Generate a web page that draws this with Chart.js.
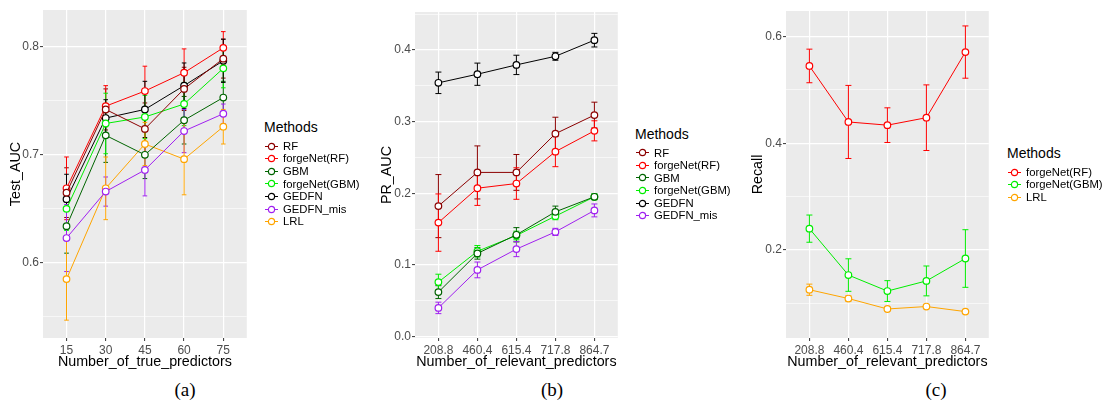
<!DOCTYPE html>
<html>
<head>
<meta charset="utf-8">
<script src="https://cdn.jsdelivr.net/npm/chart.js@4.4.1/dist/chart.umd.min.js"></script>
<style>
  html, body { margin: 0; padding: 0; background: #fff; overflow: hidden; }
  body { width: 1104px; height: 404px; position: relative; }
  .plot { position: absolute; top: 0; }
  .cap { position: absolute; top: 378px; line-height: 24px; font-family: "Liberation Serif", "DejaVu Serif", serif; font-size: 19px; transform: translateX(-50%); }
  .legend { position: absolute; font-family: "Liberation Sans", Arial, sans-serif; color: #000; }
  .lg-title { font-size: 14px; line-height: 17px; margin-bottom: 4px; white-space: nowrap; }
  .lg-item { font-size: 11.3px; line-height: 12.6px; height: 12.6px; white-space: nowrap; display: flex; align-items: center; }
  .lg-item canvas { margin: 0 5px 0 1px; }
</style>
</head>
<body>
<canvas class="plot" id="chartA" width="252" height="375" style="left:0px"></canvas>
<canvas class="plot" id="chartB" width="251" height="375" style="left:372px"></canvas>
<canvas class="plot" id="chartC" width="250" height="375" style="left:744px"></canvas>
<div class="legend" id="legendA" style="left:264px;top:118.8px"></div>
<div class="legend" id="legendB" style="left:635px;top:125.5px"></div>
<div class="legend" id="legendC" style="left:1007px;top:144.8px"></div>
<div class="cap" style="left:185px">(a)</div>
<div class="cap" style="left:552px">(b)</div>
<div class="cap" style="left:936px">(c)</div>
<script>
// (a) Test AUC vs number of true predictors
const aTicks = ['15', '30', '45', '60', '75'];
const aRF = [0.665, 0.742, 0.724, 0.761, 0.789];
const aRFErr = [0.023, 0.019, 0.024, 0.020, 0.018];
const aForgeRF = [0.669, 0.745, 0.759, 0.776, 0.799];
const aForgeRFErr = [0.029, 0.019, 0.023, 0.022, 0.015];
const aGBM = [0.634, 0.718, 0.700, 0.732, 0.753];
const aGBMErr = [0.025, 0.025, 0.022, 0.022, 0.015];
const aForgeGBM = [0.650, 0.729, 0.735, 0.747, 0.780];
const aForgeGBMErr = [0.020, 0.028, 0.020, 0.020, 0.018];
const aGEDFN = [0.659, 0.734, 0.742, 0.764, 0.787];
const aGEDFNErr = [0.023, 0.017, 0.026, 0.021, 0.020];
const aGEDFNmis = [0.623, 0.666, 0.686, 0.722, 0.738];
const aGEDFNmisErr = [0.031, 0.0135, 0.024, 0.020, 0.009];
const aLRL = [0.585, 0.669, 0.710, 0.696, 0.726];
const aLRLErr = [0.038, 0.029, 0.020, 0.033, 0.016];

// (b) PR AUC vs number of relevant predictors
const bTicks = ['208.8', '460.4', '615.4', '717.8', '864.7'];
const bRF = [0.182, 0.229, 0.229, 0.283, 0.309];
const bRFErr = [0.044, 0.037, 0.025, 0.023, 0.018];
const bForgeRF = [0.159, 0.207, 0.2135, 0.258, 0.287];
const bForgeRFErr = [0.040, 0.024, 0.022, 0.021, 0.014];
const bGBM = [0.062, 0.116, 0.142, 0.174, 0.195];
const bGBMErr = [0.009, 0.008, 0.010, 0.008, 0.004];
const bForgeGBM = [0.076, 0.119, 0.141, 0.168, 0.195];
const bForgeGBMErr = [0.011, 0.008, 0.006, 0.005, 0.004];
const bGEDFN = [0.354, 0.366, 0.379, 0.391, 0.4135];
const bGEDFNErr = [0.015, 0.0155, 0.0135, 0.0055, 0.0095];
const bGEDFNmis = [0.040, 0.093, 0.122, 0.146, 0.176];
const bGEDFNmisErr = [0.008, 0.011, 0.0105, 0.005, 0.009];

// (c) Recall vs number of relevant predictors
const cTicks = ['208.8', '460.4', '615.4', '717.8', '864.7'];
const cForgeRF = [0.545, 0.440, 0.434, 0.448, 0.571];
const cForgeRFErr = [0.0315, 0.0685, 0.0325, 0.0615, 0.049];
const cForgeGBM = [0.240, 0.153, 0.123, 0.142, 0.184];
const cForgeGBMErr = [0.0255, 0.0305, 0.0195, 0.028, 0.054];
const cLRL = [0.1255, 0.109, 0.0894, 0.094, 0.0845];
const cLRLErr = [0.0105, 0.005, 0.003, 0.004, 0.002];

const FONT = '"Liberation Sans", Arial, sans-serif';
const colors = {
  RF: '#8B0000',
  forgeRF: '#FF0000',
  GBM: '#006400',
  forgeGBM: '#00EE00',
  GEDFN: '#000000',
  GEDFNmis: '#A020F0',
  LRL: '#FFA500'
};

// ggplot-like legend key: line through an open circle
const keyIcon = color => {
  const c = document.createElement('canvas');
  c.width = 13;
  c.height = 9;
  const g = c.getContext('2d');
  g.strokeStyle = color;
  g.lineWidth = 1;
  g.beginPath();
  g.moveTo(0, 4.5);
  g.lineTo(13, 4.5);
  g.stroke();
  g.beginPath();
  g.arc(6.5, 4.5, 3.1, 0, Math.PI * 2);
  g.fillStyle = '#fff';
  g.fill();
  g.lineWidth = 1.2;
  g.stroke();
  return c;
};

const panelBg = {
  id: 'panelBg',
  beforeDraw(chart) {
    const {ctx, chartArea: a} = chart;
    ctx.save();
    ctx.fillStyle = '#EBEBEB';
    ctx.fillRect(a.left, a.top, a.right - a.left, a.bottom - a.top);
    ctx.restore();
  }
};

const errorBars = {
  id: 'errorBars',
  beforeDatasetsDraw(chart, args, opts) {
    const {ctx, scales: {x, y}} = chart;
    ctx.save();
    ctx.lineWidth = 1;
    chart.data.datasets.forEach(ds => {
      ctx.strokeStyle = ds.borderColor;
      ds.data.forEach((p, j) => {
        const e = ds.errors[j];
        const px = x.getPixelForValue(p.x);
        const top = y.getPixelForValue(p.y + e);
        const bot = y.getPixelForValue(p.y - e);
        ctx.beginPath();
        ctx.moveTo(px, top);
        ctx.lineTo(px, bot);
        ctx.moveTo(px - opts.cap, top);
        ctx.lineTo(px + opts.cap, top);
        ctx.moveTo(px - opts.cap, bot);
        ctx.lineTo(px + opts.cap, bot);
        ctx.stroke();
      });
    });
    ctx.restore();
  }
};

// legend as html next to the panel, built from the chart's datasets
const htmlLegend = {
  id: 'htmlLegend',
  afterUpdate(chart, args, opts) {
    const box = document.getElementById(opts.containerID);
    box.innerHTML = '';
    const title = document.createElement('div');
    title.className = 'lg-title';
    title.textContent = opts.title;
    box.appendChild(title);
    chart.data.datasets.forEach(ds => {
      const row = document.createElement('div');
      row.className = 'lg-item';
      row.appendChild(keyIcon(ds.borderColor));
      const span = document.createElement('span');
      span.textContent = ds.label;
      row.appendChild(span);
      box.appendChild(row);
    });
  }
};

const makeChart = (id, p) => {
  const isMajor = v => p.yMajor.some(m => Math.abs(m - v) < 1e-9);
  const datasets = p.series.map(s => ({
    label: s.label,
    data: s.values.map((v, i) => ({x: i + 1, y: v})),
    errors: s.errors,
    borderColor: s.color,
    borderWidth: 1,
    pointRadius: 3.3,
    pointBorderWidth: 1.2,
    pointBackgroundColor: '#fff',
    pointBorderColor: s.color,
    tension: 0
  }));
  return new Chart(document.getElementById(id), {
    type: 'line',
    data: {datasets},
    plugins: [panelBg, errorBars, htmlLegend],
    options: {
      responsive: false,
      animation: false,
      events: [],
      layout: {padding: {top: p.top, left: 0, right: 0, bottom: 0}},
      scales: {
        x: {
          type: 'linear',
          min: 0.4,
          max: 5.6,
          afterBuildTicks: s => { s.ticks = p.xLabels.map((_, i) => ({value: i + 1})); },
          afterFit: s => { s.height = 37; },
          ticks: {
            callback: v => p.xLabels[Math.round(v) - 1],
            color: '#4D4D4D',
            font: {size: 12, family: FONT},
            padding: 2,
            autoSkip: false,
            maxRotation: 0
          },
          grid: {color: '#fff', lineWidth: 1.2, tickLength: 3, tickColor: '#333', tickWidth: 1},
          border: {display: false},
          title: {
            display: true,
            text: p.xTitle,
            color: '#000',
            font: {size: 14.3, family: FONT},
            padding: {top: 0, bottom: 4.5}
          }
        },
        y: {
          min: p.yMin,
          max: p.yMax,
          afterBuildTicks: s => {
            s.ticks = p.yMajor.concat(p.yMinor).sort((a, b) => a - b).map(v => ({value: v}));
          },
          afterFit: s => { s.width = p.yWidth; },
          ticks: {
            callback: v => isMajor(v) ? v.toFixed(1) : '',
            color: '#4D4D4D',
            font: {size: 12, family: FONT},
            padding: 1,
            autoSkip: false
          },
          grid: {
            color: '#fff',
            lineWidth: c => isMajor(c.tick.value) ? 1.2 : 0.6,
            tickLength: 3,
            tickWidth: 1,
            tickColor: c => isMajor(c.tick.value) ? '#333' : 'rgba(0,0,0,0)'
          },
          border: {display: false},
          title: {
            display: true,
            text: p.yTitle,
            color: '#000',
            font: {size: 14.3, family: FONT},
            padding: {top: p.yTitlePad, bottom: 0}
          }
        }
      },
      plugins: {
        errorBars: {cap: p.cap},
        htmlLegend: {containerID: p.legendId, title: 'Methods'},
        tooltip: {enabled: false},
        legend: {display: false}
      }
    }
  });
};

makeChart('chartA', {
  xLabels: aTicks,
  xTitle: 'Number_of_true_predictors',
  yTitle: 'Test_AUC',
  yMin: 0.5305, yMax: 0.834,
  yMajor: [0.6, 0.7, 0.8],
  yMinor: [0.55, 0.65, 0.75],
  yWidth: 43, yTitlePad: 7.5,
  top: 10, cap: 2.3, legendId: 'legendA',
  series: [
    {label: 'RF', values: aRF, errors: aRFErr, color: colors.RF},
    {label: 'forgeNet(RF)', values: aForgeRF, errors: aForgeRFErr, color: colors.forgeRF},
    {label: 'GBM', values: aGBM, errors: aGBMErr, color: colors.GBM},
    {label: 'forgeNet(GBM)', values: aForgeGBM, errors: aForgeGBMErr, color: colors.forgeGBM},
    {label: 'GEDFN', values: aGEDFN, errors: aGEDFNErr, color: colors.GEDFN},
    {label: 'GEDFN_mis', values: aGEDFNmis, errors: aGEDFNmisErr, color: colors.GEDFNmis},
    {label: 'LRL', values: aLRL, errors: aLRLErr, color: colors.LRL}
  ]
});

makeChart('chartB', {
  xLabels: bTicks,
  xTitle: 'Number_of_relevant_predictors',
  yTitle: 'PR_AUC',
  yMin: -0.002, yMax: 0.4528,
  yMajor: [0, 0.1, 0.2, 0.3, 0.4],
  yMinor: [0.05, 0.15, 0.25, 0.35, 0.45],
  yWidth: 43, yTitlePad: 6.4,
  top: 12, cap: 3, legendId: 'legendB',
  series: [
    {label: 'RF', values: bRF, errors: bRFErr, color: colors.RF},
    {label: 'forgeNet(RF)', values: bForgeRF, errors: bForgeRFErr, color: colors.forgeRF},
    {label: 'GBM', values: bGBM, errors: bGBMErr, color: colors.GBM},
    {label: 'forgeNet(GBM)', values: bForgeGBM, errors: bForgeGBMErr, color: colors.forgeGBM},
    {label: 'GEDFN', values: bGEDFN, errors: bGEDFNErr, color: colors.GEDFN},
    {label: 'GEDFN_mis', values: bGEDFNmis, errors: bGEDFNmisErr, color: colors.GEDFNmis}
  ]
});

makeChart('chartC', {
  xLabels: cTicks,
  xTitle: 'Number_of_relevant_predictors',
  yTitle: 'Recall',
  yMin: 0.035, yMax: 0.648,
  yMajor: [0.2, 0.4, 0.6],
  yMinor: [0.1, 0.3, 0.5],
  yWidth: 42, yTitlePad: 5.4,
  top: 11, cap: 3, legendId: 'legendC',
  series: [
    {label: 'forgeNet(RF)', values: cForgeRF, errors: cForgeRFErr, color: colors.forgeRF},
    {label: 'forgeNet(GBM)', values: cForgeGBM, errors: cForgeGBMErr, color: colors.forgeGBM},
    {label: 'LRL', values: cLRL, errors: cLRLErr, color: colors.LRL}
  ]
});
</script>
</body>
</html>
